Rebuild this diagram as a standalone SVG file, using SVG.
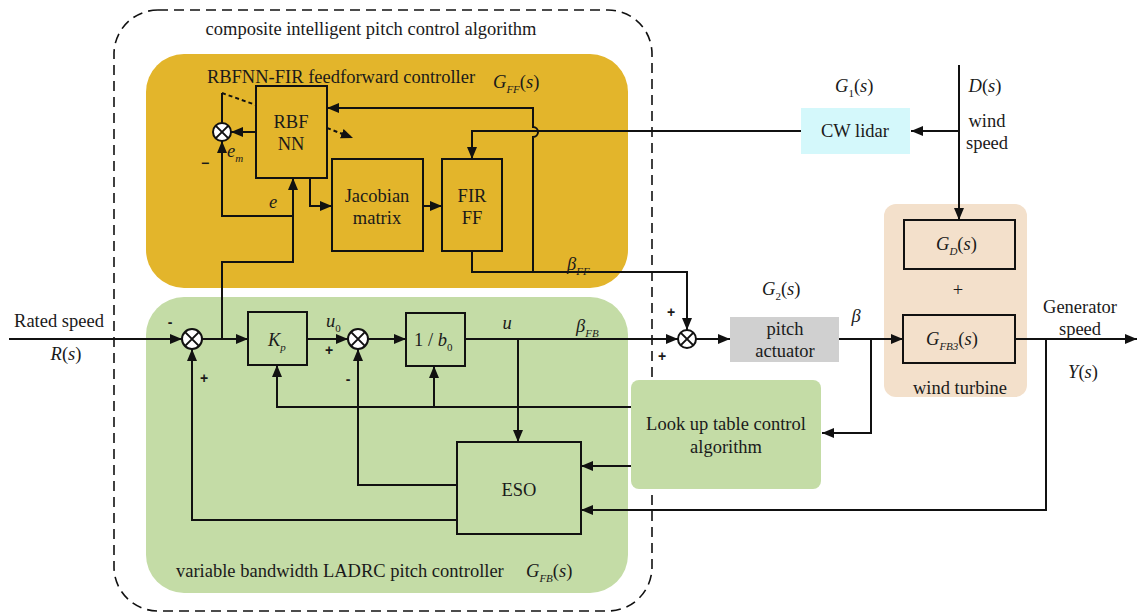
<svg xmlns="http://www.w3.org/2000/svg" width="1137" height="614" viewBox="0 0 1137 614">
<defs>
<style>
text{font-family:"Liberation Serif","Times New Roman",serif;font-size:18.5px;fill:#1a1a1a}
.c{text-anchor:middle}
.i{font-style:italic}
.sub{font-style:italic;font-size:11px}
.sign{font-family:"Liberation Sans",Arial,sans-serif;font-size:14px;font-weight:bold}
.box{fill:none;stroke:#111;stroke-width:2}
.ln{fill:none;stroke:#111;stroke-width:2}
.arr{marker-end:url(#ah)}
.sj circle{fill:#fff;stroke:#111;stroke-width:2}
.sj path{stroke:#111;stroke-width:2}
</style>
<marker id="ah" markerUnits="userSpaceOnUse" markerWidth="12" markerHeight="10" refX="12" refY="5" orient="auto">
<path d="M0,0 L12,5 L0,10 z" fill="#111"/>
</marker>
</defs>
<rect width="1137" height="614" fill="#fff"/>

<g id="composite-region">
<rect x="114" y="10" width="538" height="601" rx="44" fill="none" stroke="#111" stroke-width="1.6" stroke-dasharray="10,6"/>
<text class="c" x="371" y="35">composite intelligent pitch control algorithm</text>
</g>

<g id="feedforward-region">
<rect x="146" y="54" width="482" height="234" rx="38" fill="#e3b52b"/>
<text class="c" x="341" y="83">RBFNN-FIR feedforward controller</text>
<text x="493" y="88"><tspan class="i">G</tspan><tspan class="sub" dy="5">FF</tspan><tspan dy="-5">(</tspan><tspan class="i">s</tspan>)</text>
</g>

<g id="feedback-region">
<rect x="146" y="297" width="482" height="296" rx="38" fill="#c4dca6"/>
<text x="176" y="577">variable bandwidth LADRC pitch controller</text>
<text x="526" y="577"><tspan class="i">G</tspan><tspan class="sub" dy="5">FB</tspan><tspan dy="-5">(</tspan><tspan class="i">s</tspan>)</text>
</g>

<g id="wind-turbine">
<rect x="884" y="204" width="143" height="193" rx="12" fill="#f3e0cb"/>
<text class="c" x="958" y="296">+</text>
<text class="c" x="960" y="394">wind turbine</text>
</g>

<g id="connectors">
<path class="ln arr" d="M9,339 H182"/>
<path class="ln arr" d="M202,339 H248"/>
<path class="ln arr" d="M222,339 V262 H293 V178"/>
<path class="ln arr" d="M293,216 H222 V141"/>
<path class="ln arr" d="M256,132 H231"/>
<path class="ln" d="M222,123 V93"/>
<path class="ln" d="M222,93 L256,105" stroke-dasharray="4,3"/>
<path class="ln arr" d="M327,128 L353,138" stroke-dasharray="4,3"/>
<path class="ln arr" d="M310,178 V206 H332"/>
<path class="ln arr" d="M423,206 H442"/>
<path class="ln arr" d="M801,131 H472 V159"/>
<path class="ln arr" d="M533,272 V137 A5,5 0 0 0 533,127 V108 H327"/>
<path class="ln arr" d="M472,251 V272 H687 V330"/>
<path class="ln arr" d="M465,339 H678"/>
<path class="ln arr" d="M518,339 V442"/>
<path class="ln arr" d="M307,339 H348"/>
<path class="ln arr" d="M368,339 H406"/>
<path class="ln arr" d="M631,407 H277 V365"/>
<path class="ln arr" d="M434,407 V366"/>
<path class="ln arr" d="M457,485 H358 V349"/>
<path class="ln arr" d="M457,520 H192 V349"/>
<path class="ln arr" d="M631,466 H581"/>
<path class="ln arr" d="M1046,339 V510 H581"/>
<path class="ln arr" d="M696,339 H730"/>
<path class="ln arr" d="M839,339 H903"/>
<path class="ln arr" d="M871,339 V433 H822"/>
<path class="ln arr" d="M1015,339 H1137"/>
<path class="ln arr" d="M959,65 V220"/>
<path class="ln arr" d="M959,131 H911"/>
</g>

<g id="sum-em" class="sj">
<circle cx="222" cy="132" r="9"/>
<path d="M215.6,125.6 L228.4,138.4 M228.4,125.6 L215.6,138.4"/>
</g>
<g id="sum-1" class="sj">
<circle cx="192" cy="339" r="10"/>
<path d="M184.9,331.9 L199.1,346.1 M199.1,331.9 L184.9,346.1"/>
</g>
<g id="sum-2" class="sj">
<circle cx="358" cy="339" r="10"/>
<path d="M350.9,331.9 L365.1,346.1 M365.1,331.9 L350.9,346.1"/>
</g>
<g id="sum-3" class="sj">
<circle cx="687" cy="339" r="9"/>
<path d="M680.6,332.6 L693.4,345.4 M693.4,332.6 L680.6,345.4"/>
</g>

<g id="rbfnn">
<rect class="box" x="256" y="86" width="71" height="92"/>
<text class="c" x="291" y="128">RBF</text>
<text class="c" x="291" y="150">NN</text>
</g>
<g id="jacobian">
<rect class="box" x="332" y="159" width="91" height="92"/>
<text class="c" x="377" y="202">Jacobian</text>
<text class="c" x="377" y="224">matrix</text>
</g>
<g id="fir-ff">
<rect class="box" x="442" y="159" width="60" height="92"/>
<text class="c" x="472" y="202">FIR</text>
<text class="c" x="472" y="224">FF</text>
</g>
<g id="kp">
<rect class="box" x="248" y="312" width="59" height="53"/>
<text x="268" y="346"><tspan class="i">K</tspan><tspan class="sub" dy="5">p</tspan></text>
</g>
<g id="inv-b0">
<rect class="box" x="406" y="313" width="59" height="53"/>
<text x="414" y="346">1 / <tspan class="i">b</tspan><tspan class="sub" dy="5" style="font-style:normal">0</tspan></text>
</g>
<g id="eso">
<rect class="box" x="457" y="442" width="124" height="92"/>
<text class="c" x="519" y="496">ESO</text>
</g>
<g id="lookup">
<rect x="631" y="380" width="190" height="109" rx="8" fill="#c4dca6"/>
<text class="c" x="726" y="430">Look up table control</text>
<text class="c" x="726" y="453">algorithm</text>
</g>
<g id="cw-lidar">
<rect x="801" y="108" width="109" height="46" fill="#d4f8fb"/>
<text class="c" x="855" y="137">CW lidar</text>
</g>
<g id="pitch-actuator">
<rect x="730" y="317" width="109" height="45" fill="#d0d0d0"/>
<text class="c" x="785" y="335">pitch</text>
<text class="c" x="785" y="357">actuator</text>
</g>
<g id="gd">
<rect class="box" x="904" y="220" width="111" height="49"/>
<text x="936" y="250"><tspan class="i">G</tspan><tspan class="sub" dy="5">D</tspan><tspan dy="-5">(</tspan><tspan class="i">s</tspan>)</text>
</g>
<g id="gfb3">
<rect class="box" x="903" y="315" width="112" height="48"/>
<text x="926" y="345"><tspan class="i">G</tspan><tspan class="sub" dy="5">FB3</tspan><tspan dy="-5">(</tspan><tspan class="i">s</tspan>)</text>
</g>

<g id="labels">
<text class="c" x="59" y="327">Rated speed</text>
<text class="c" x="66" y="360"><tspan class="i">R</tspan>(<tspan class="i">s</tspan>)</text>
<text class="sign c" x="170" y="327">-</text>
<text class="sign c" x="204" y="383">+</text>
<text class="sign c" x="329" y="355">+</text>
<text class="sign c" x="348" y="384">-</text>
<text class="sign c" x="671" y="317">+</text>
<text class="sign c" x="662" y="361">+</text>
<text class="sign c" x="205" y="168">−</text>
<text x="227" y="157"><tspan class="i">e</tspan><tspan class="sub" dy="5">m</tspan></text>
<text class="i c" x="273" y="208">e</text>
<text x="567" y="270"><tspan class="i">β</tspan><tspan class="sub" dy="5">FF</tspan></text>
<text x="326" y="327"><tspan class="i">u</tspan><tspan class="sub" dy="5" style="font-style:normal">0</tspan></text>
<text class="i c" x="507" y="329">u</text>
<text x="576" y="332"><tspan class="i">β</tspan><tspan class="sub" dy="5">FB</tspan></text>
<text x="835" y="92"><tspan class="i">G</tspan><tspan class="sub" dy="5" style="font-style:normal">1</tspan><tspan dy="-5">(</tspan><tspan class="i">s</tspan>)</text>
<text class="c" x="985" y="92"><tspan class="i">D</tspan>(<tspan class="i">s</tspan>)</text>
<text class="c" x="987" y="127">wind</text>
<text class="c" x="987" y="149">speed</text>
<text x="762" y="295"><tspan class="i">G</tspan><tspan class="sub" dy="5" style="font-style:normal">2</tspan><tspan dy="-5">(</tspan><tspan class="i">s</tspan>)</text>
<text class="i c" x="856" y="322">β</text>
<text class="c" x="1080" y="313">Generator</text>
<text class="c" x="1080" y="335">speed</text>
<text class="c" x="1083" y="378"><tspan class="i">Y</tspan>(<tspan class="i">s</tspan>)</text>
</g>
</svg>
